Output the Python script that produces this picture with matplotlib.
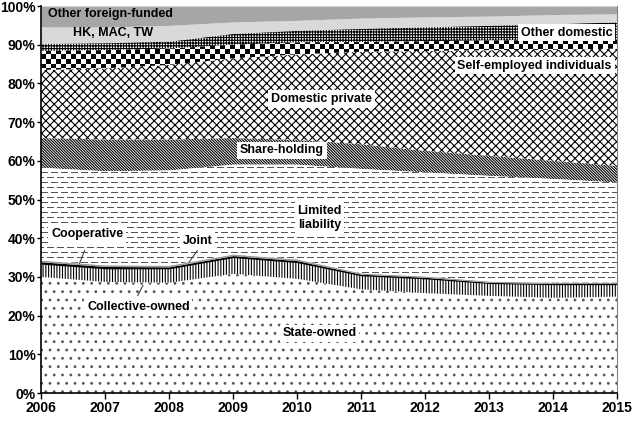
import numpy as np
import matplotlib
matplotlib.use('Agg')
import matplotlib.pyplot as plt
from matplotlib.colors import ListedColormap

# shares by ownership type, % of total, 2006-2015
years = [2006, 2007, 2008, 2009, 2010, 2011, 2012, 2013, 2014, 2015]
state_owned = [30.0, 28.7, 28.5, 30.8, 29.5, 26.8, 25.8, 25.1, 24.6, 24.9]
collective_owned = [3.3, 3.4, 3.6, 4.2, 4.2, 3.5, 3.7, 3.2, 3.4, 3.1]
cooperative = [0.6, 0.6, 0.5, 0.5, 0.5, 0.4, 0.4, 0.3, 0.3, 0.3]
joint = [0.4, 0.4, 0.4, 0.4, 0.4, 0.3, 0.3, 0.3, 0.3, 0.3]
limited_liability = [23.9, 24.2, 24.5, 23.1, 24.4, 26.9, 26.8, 27.2, 26.7, 25.8]
share_holding = [7.7, 8.2, 8.0, 6.9, 6.4, 6.4, 5.6, 5.2, 4.7, 4.3]
domestic_private = [17.6, 18.4, 19.3, 20.6, 22.1, 23.9, 25.8, 27.3, 28.7, 30.3]
self_employed = [4.9, 4.7, 4.2, 3.5, 3.1, 2.5, 2.5, 2.5, 2.5, 2.3]
other_domestic = [1.9, 1.9, 1.9, 2.9, 3.1, 3.5, 3.7, 3.9, 4.2, 4.6]
hk_mac_tw = [4.3, 4.1, 4.1, 3.0, 2.6, 2.7, 2.6, 2.4, 2.4, 2.1]
other_foreign = [5.4, 5.4, 5.0, 4.1, 3.7, 3.1, 2.8, 2.6, 2.2, 2.0]

plt.rcParams['font.family'] = ['Liberation Sans', 'DejaVu Sans']
plt.rcParams['font.weight'] = 'bold'
plt.rcParams['hatch.linewidth'] = 0.8


def checker_img():
    return np.add.outer(np.arange(16), np.arange(116)) % 2


def dash_img():
    # dashed horizontal rows, ~1 px per cell
    rows, cols = 180, 576
    img = np.zeros((rows, cols))
    c = np.arange(cols)
    for r in range(0, rows, 5):
        off = 4 if (r // 5) % 2 else 0
        img[r] = ((c + off) % 10) < 7
    return img


fig = plt.figure(figsize=(6.33, 4.22), dpi=100)
ax = fig.add_axes([0.065, 0.0687, 0.910, 0.9170])

# (values, facecolor, hatch, hatch colour)
layers = [
    (state_owned, 'white', '..', '#555555'),
    (collective_owned, 'white', '||||||', 'black'),
    (cooperative, 'black', None, 'black'),
    (joint, '#999999', None, '#999999'),
    (limited_liability, 'dash', None, '#555555'),
    (share_holding, 'white', '\\\\\\\\\\\\\\\\\\\\\\\\', 'black'),
    (domestic_private, 'white', 'xxxx', 'black'),
    (self_employed, 'checker', None, 'black'),
    (other_domestic, 'white', '++++++', 'black'),
    (hk_mac_tw, '#d9d9d9', None, '#d9d9d9'),
    (other_foreign, '#a6a6a6', None, '#a6a6a6'),
]

base = np.zeros(len(years))
for vals, fc, hatch, hc in layers:
    top = base + np.array(vals)
    if fc in ('checker', 'dash'):
        coll = ax.fill_between(years, base, top, facecolor='white', linewidth=0)
        if fc == 'checker':
            img, ext = checker_img(), [2006, 2015, 80, 100]
        else:
            img, ext = dash_img(), [2006, 2015, 18, 64.3]
        im = ax.imshow(img, cmap=ListedColormap(['white', hc]), extent=ext,
                       origin='lower', interpolation='nearest', aspect='auto',
                       zorder=coll.get_zorder() + 0.1)
        im.set_clip_path(coll.get_paths()[0], ax.transData)
    else:
        ax.fill_between(years, base, top, facecolor=fc, edgecolor=hc,
                        hatch=hatch, linewidth=0)
    base = top

ax.set_xlim(2006, 2015)
ax.set_ylim(0, 100)
ax.set_xticks(years)
ax.set_yticks(range(0, 101, 10))
ax.set_yticklabels(['%d%%' % v for v in range(0, 101, 10)])
ax.tick_params(direction='out', length=4, width=1, labelsize=10, pad=2)
ax.tick_params(axis='y', length=3, pad=1)
ax.spines['top'].set_visible(False)
ax.spines['right'].set_color('#808080')
ax.spines['left'].set_linewidth(1.2)
ax.spines['bottom'].set_linewidth(1.2)

box = dict(facecolor='white', edgecolor='none', pad=2)
fs = 9
ax.text(2006.11, 98.0, 'Other foreign-funded', fontsize=fs, ha='left', va='center', zorder=5)
ax.text(2007.12, 93.1, 'HK, MAC, TW', fontsize=fs, ha='center', va='center', zorder=5)
ax.text(2014.21, 93.1, 'Other domestic', fontsize=fs, ha='center', va='center', bbox=box, zorder=5)
ax.text(2013.71, 84.6, 'Self-employed individuals', fontsize=fs, ha='center', va='center', bbox=box, zorder=5)
ax.text(2010.38, 76.0, 'Domestic private', fontsize=fs, ha='center', va='center', bbox=box, zorder=5)
ax.text(2009.76, 62.7, 'Share-holding', fontsize=fs, ha='center', va='center', bbox=box, zorder=5)
ax.text(2010.35, 45.2, 'Limited\nliability', fontsize=fs, ha='center', va='center', bbox=box, zorder=5)
ax.text(2006.72, 41.0, 'Cooperative', fontsize=fs, ha='center', va='center', bbox=box, zorder=5)
ax.text(2008.44, 39.3, 'Joint', fontsize=fs, ha='center', va='center', bbox=box, zorder=5)
ax.text(2007.52, 22.2, 'Collective-owned', fontsize=fs, ha='center', va='center', bbox=box, zorder=5)
ax.text(2010.35, 15.4, 'State-owned', fontsize=fs, ha='center', va='center', bbox=box, zorder=5)

# leader lines
ax.plot([2006.60, 2006.68], [33.5, 36.8], color='#444444', lw=0.8, zorder=4)
ax.plot([2008.31, 2008.44], [33.8, 36.8], color='#444444', lw=0.8, zorder=4)
ax.plot([2007.51, 2007.59], [25.2, 27.8], color='#444444', lw=0.8, zorder=4)

fig.savefig('out.png', dpi=100)
